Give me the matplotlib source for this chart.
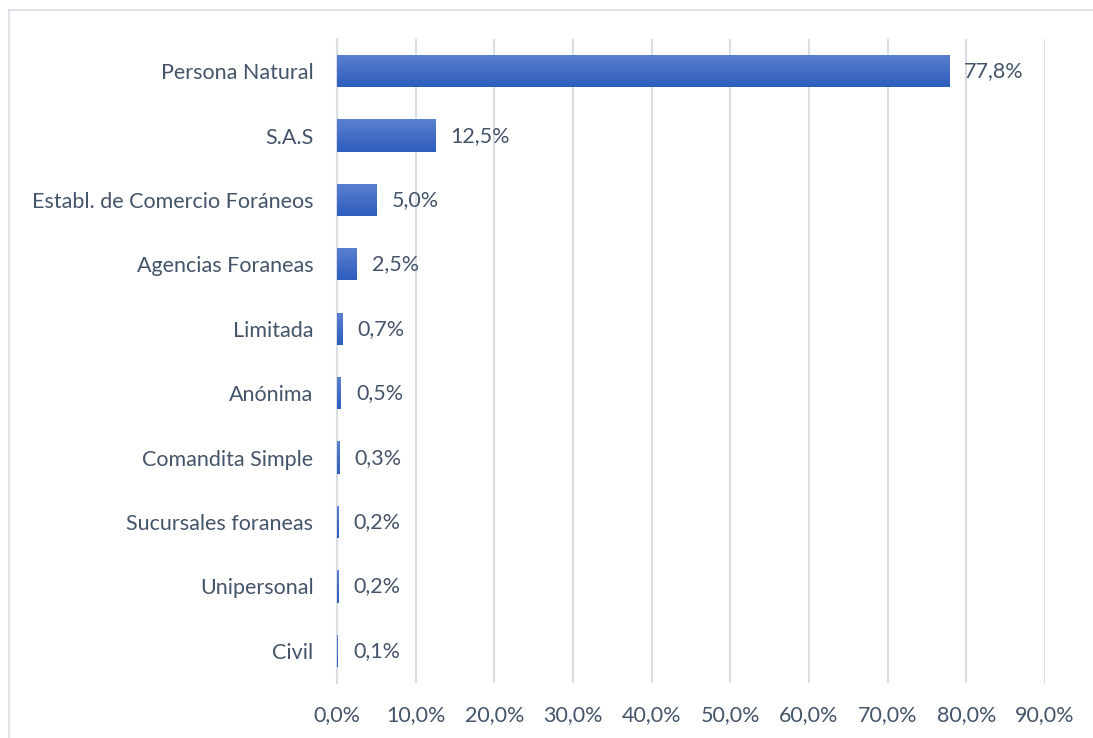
import matplotlib
matplotlib.use('Agg')
import matplotlib.pyplot as plt
import numpy as np
from matplotlib.lines import Line2D
from matplotlib.colors import LinearSegmentedColormap

categories = ['Persona Natural', 'S.A.S', 'Establ. de Comercio Foráneos',
              'Agencias Foraneas', 'Limitada', 'Anónima', 'Comandita Simple',
              'Sucursales foraneas', 'Unipersonal', 'Civil']
values = [77.8, 12.5, 5.0, 2.5, 0.7, 0.5, 0.3, 0.2, 0.2, 0.1]
labels = ['77,8%', '12,5%', '5,0%', '2,5%', '0,7%', '0,5%', '0,3%', '0,2%', '0,2%', '0,1%']
xticks = np.arange(0, 100, 10)

text_color = '#44546a'
grid_color = '#d9dde4'
fs = 15.5
plt.rcParams['font.family'] = ['Lato', 'DejaVu Sans']

fig = plt.figure(figsize=(10.93, 7.38), dpi=100)
# outer chart border: only left and top edges fall inside the image
bx, by = 8.5 / 1093, 1 - 10 / 738
fig.lines.append(Line2D([bx, bx], [0, by], transform=fig.transFigure,
                        color=grid_color, linewidth=1.2))
fig.lines.append(Line2D([bx, 1], [by, by], transform=fig.transFigure,
                        color=grid_color, linewidth=1.2))

ax = fig.add_axes([337 / 1093, 1 - 683 / 738, (1045 - 337) / 1093, (683 - 39) / 738])

y = np.arange(len(categories))
bars = ax.barh(y, values, height=0.5, color='#4472c4', zorder=3)

# vertical gradient inside each bar
grad = np.linspace(0, 1, 64).reshape(-1, 1)
cmap = LinearSegmentedColormap.from_list('g', ['#5b80cf', '#2d5dbd'])
for b in bars:
    x0, y0 = b.get_x(), b.get_y()
    w, h = b.get_width(), b.get_height()
    im = ax.imshow(grad, extent=(x0, x0 + w, y0 + h, y0), aspect='auto',
                   cmap=cmap, zorder=4, interpolation='bicubic')
    im.set_clip_path(b)

for yi, v, lab in zip(y, values, labels):
    ax.annotate(lab, (v, yi), xytext=(11, 0), textcoords='offset points',
                va='center', ha='left', fontsize=fs, color=text_color, zorder=5)

ax.set_xlim(0, 90)
ax.set_ylim(len(categories) - 0.5, -0.5)
ax.set_xticks(xticks)
ax.set_xticklabels([f'{t:.1f}%'.replace('.', ',') for t in xticks])
ax.set_yticks(y)
ax.set_yticklabels(categories)
ax.tick_params(axis='both', length=0, labelsize=fs, labelcolor=text_color)
ax.tick_params(axis='x', pad=16)
ax.tick_params(axis='y', pad=17)
ax.grid(axis='x', color=grid_color, linewidth=1.5, zorder=0)
for s in ['top', 'right', 'bottom']:
    ax.spines[s].set_visible(False)
ax.spines['left'].set_color(grid_color)
ax.spines['left'].set_linewidth(1.5)
ax.set_facecolor('none')

fig.savefig('out.png', dpi=100)
